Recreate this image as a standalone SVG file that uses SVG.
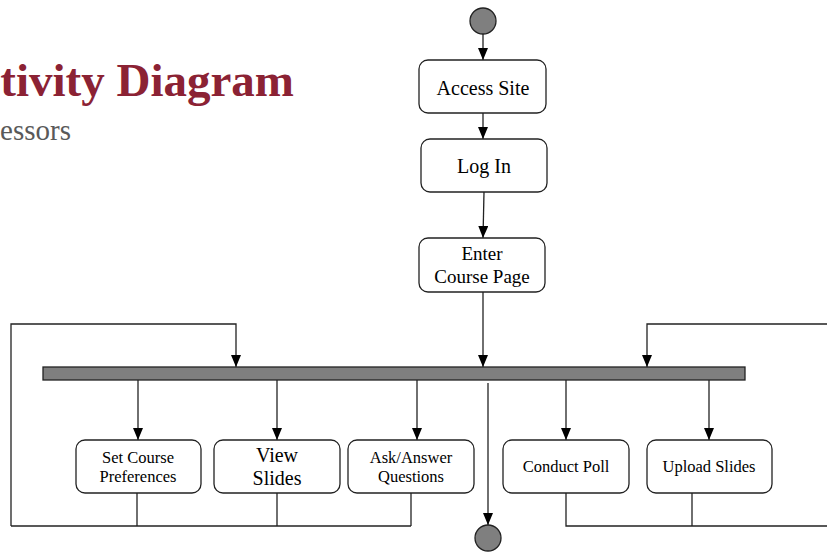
<svg xmlns="http://www.w3.org/2000/svg" width="827" height="552" viewBox="0 0 827 552">
<defs>
<marker id="ah" markerWidth="12" markerHeight="10" refX="12" refY="5" orient="auto" markerUnits="userSpaceOnUse" viewBox="0 0 12 10">
<path d="M0,0 L12,5 L0,10 Z" fill="#000"/>
</marker>
<style>
.box{fill:#fff;stroke:#222;stroke-width:1.3}
.t{font-family:"Liberation Serif",serif;fill:#000;text-anchor:middle}
.c{stroke:#222;stroke-width:1.3;fill:none}
.dot{fill:#7f7f7f;stroke:#222;stroke-width:1.3}
</style>
</defs>
<rect width="827" height="552" fill="#fff"/>
<text x="294" y="96" text-anchor="end" font-family="Liberation Serif,serif" font-weight="bold" font-size="47" fill="#8b2234">tivity Diagram</text>
<text x="71" y="140" text-anchor="end" font-family="Liberation Serif,serif" font-size="29" fill="#595959">essors</text>

<g id="connectors">
<line class="c" x1="483" y1="34" x2="483" y2="60" marker-end="url(#ah)"/>
<line class="c" x1="483" y1="113" x2="483" y2="139" marker-end="url(#ah)"/>
<line class="c" x1="484" y1="192" x2="483" y2="238" marker-end="url(#ah)"/>
<line class="c" x1="483" y1="292" x2="483" y2="367" marker-end="url(#ah)"/>
<polyline class="c" points="11,526 11,324 236,324 236,367" marker-end="url(#ah)"/>
<polyline class="c" points="827,324 647,324 647,367" marker-end="url(#ah)"/>
<line class="c" x1="138" y1="380" x2="138" y2="440" marker-end="url(#ah)"/>
<line class="c" x1="277" y1="380" x2="277" y2="440" marker-end="url(#ah)"/>
<line class="c" x1="417" y1="380" x2="417" y2="440" marker-end="url(#ah)"/>
<line class="c" x1="566" y1="380" x2="566" y2="440" marker-end="url(#ah)"/>
<line class="c" x1="709" y1="380" x2="709" y2="440" marker-end="url(#ah)"/>
<line class="c" x1="488" y1="383" x2="488" y2="525" marker-end="url(#ah)"/>
<polyline class="c" points="11,526 411,526"/>
<line class="c" x1="137" y1="493" x2="137" y2="526"/>
<line class="c" x1="277" y1="493" x2="277" y2="526"/>
<line class="c" x1="411" y1="493" x2="411" y2="526"/>
<polyline class="c" points="566,493 566,526 827,526"/>
<line class="c" x1="692" y1="493" x2="692" y2="526"/>
</g>

<g id="start"><circle class="dot" cx="483" cy="21" r="13"/></g>
<g id="access-site"><rect class="box" x="419" y="60" width="127" height="53" rx="9"/><text class="t" x="483" y="95" font-size="20">Access Site</text></g>
<g id="log-in"><rect class="box" x="421" y="139" width="126" height="53" rx="9"/><text class="t" x="484" y="173" font-size="20">Log In</text></g>
<g id="enter-course-page"><rect class="box" x="419" y="238" width="126" height="54" rx="9"/><text class="t" x="482" y="260" font-size="19">Enter</text><text class="t" x="482" y="283" font-size="19">Course Page</text></g>
<g id="fork"><rect x="43" y="367" width="702" height="13" fill="#7f7f7f" stroke="#222" stroke-width="1.3"/></g>
<g id="set-course-preferences"><rect class="box" x="76" y="440" width="125" height="53" rx="9"/><text class="t" x="138" y="463" font-size="16.5">Set Course</text><text class="t" x="138" y="482" font-size="16.5">Preferences</text></g>
<g id="view-slides"><rect class="box" x="214" y="440" width="126" height="53" rx="9"/><text class="t" x="277" y="462" font-size="20">View</text><text class="t" x="277" y="485" font-size="20">Slides</text></g>
<g id="ask-answer-questions"><rect class="box" x="348" y="440" width="126" height="53" rx="9"/><text class="t" x="411" y="463" font-size="16.5">Ask/Answer</text><text class="t" x="411" y="482" font-size="16.5">Questions</text></g>
<g id="conduct-poll"><rect class="box" x="503" y="440" width="126" height="53" rx="9"/><text class="t" x="566" y="472" font-size="16.5">Conduct Poll</text></g>
<g id="upload-slides"><rect class="box" x="647" y="440" width="125" height="53" rx="9"/><text class="t" x="709" y="472" font-size="16.5">Upload Slides</text></g>
<g id="end"><circle class="dot" cx="488" cy="538" r="13"/></g>
</svg>
